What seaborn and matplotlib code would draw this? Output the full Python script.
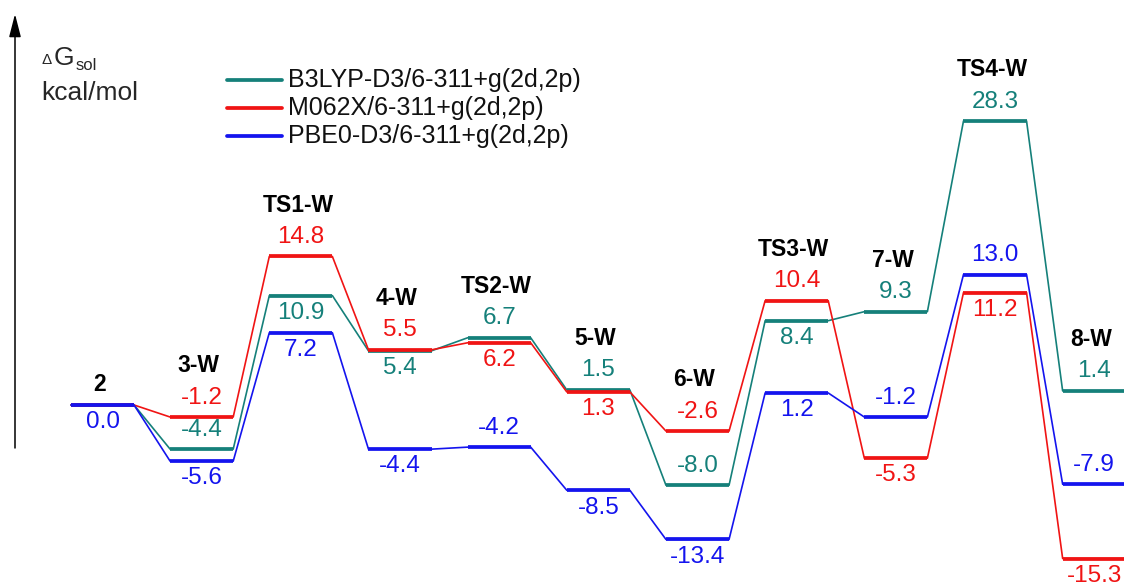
import numpy as np
import pandas as pd
import matplotlib
matplotlib.use("Agg")
import matplotlib.pyplot as plt
from matplotlib.lines import Line2D
import seaborn as sns

# ---------------- data ----------------
states = ["2", "3-W", "TS1-W", "4-W", "TS2-W", "5-W", "6-W", "TS3-W", "7-W", "TS4-W", "8-W"]
methods = ["B3LYP-D3/6-311+g(2d,2p)", "M062X/6-311+g(2d,2p)", "PBE0-D3/6-311+g(2d,2p)"]
b3lyp = [0.0, -4.4, 10.9, 5.4, 6.7, 1.5, -8.0, 8.4, 9.3, 28.3, 1.4]
m062x = [0.0, -1.2, 14.8, 5.5, 6.2, 1.3, -2.6, 10.4, -5.3, 11.2, -15.3]
pbe0 = [0.0, -5.6, 7.2, -4.4, -4.2, -8.5, -13.4, 1.2, -1.2, 13.0, -7.9]
# where each value label sits: 'a' above the level, 'b' below, '' not shown
b3lyp_side = ['', 'a', 'b', 'b', 'a', 'a', 'a', 'b', 'a', 'a', 'a']
m062x_side = ['', 'a', 'a', 'a', 'b', 'b', 'a', 'a', 'b', 'b', 'b']
pbe0_side = ['b', 'b', 'b', 'b', 'a', 'b', 'b', 'b', 'a', 'a', 'a']

colors = ["#15807a", "#f01414", "#1414ee"]
series = [b3lyp, m062x, pbe0]
sides = [b3lyp_side, m062x_side, pbe0_side]

# ---------------- figure ----------------
sns.set_theme(style="white")
plt.rcParams['font.family'] = ['Liberation Sans', 'DejaVu Sans']

W, H = 1124, 583
fig = plt.figure(figsize=(W / 100, H / 100), dpi=100)
ax = fig.add_axes([0, 0, 1, 1])
ax.set_axis_off()

hw = 0.318  # half width of each level bar (in state units)

rows = []
for m, vals in zip(methods, series):
    for i, v in enumerate(vals):
        rows.append({"method": m, "x": i - hw, "E": v})
        rows.append({"method": m, "x": i + hw, "E": v})
df = pd.DataFrame(rows)

# thin connectors (full step profile)
for m, c in zip(methods, colors):
    sns.lineplot(data=df[df.method == m], x="x", y="E", color=c, lw=1.2,
                 estimator=None, sort=False, ax=ax, legend=False)

# thick levels
for vals, c in zip(series, colors):
    xs = np.arange(len(vals))
    ax.hlines(vals, xs - hw, xs + hw, color=c, lw=2.7, zorder=3)

# value labels
for vals, sd, c in zip(series, sides, colors):
    for i, (v, s) in enumerate(zip(vals, sd)):
        if not s:
            continue
        dy = 14.0 if s == 'a' else -12.4
        ax.annotate(f"{v:.1f}", (i, v), xytext=(0, dy), textcoords="offset points",
                    ha="center", va="center", color=c, fontsize=17.5)

# species labels
for i, name in enumerate(states):
    top = max(s[i] for s in series)
    has_above = any(sd[i] == 'a' and s[i] >= top - 1.0 for s, sd in zip(series, sides))
    dy = 37.0 if has_above else 14.4
    ax.annotate(name, (i - 0.03, top), xytext=(0, dy), textcoords="offset points",
                ha="center", va="center", color="black", fontsize=16.5, fontweight="bold")

ax.set_xlim(-1.0336, 10.3006)
ax.set_ylim(-17.74, 40.36)


def px(x, y):
    return (x / W, 1 - y / H)


# energy axis arrow
ax.annotate("", xy=px(15, 14), xytext=px(15, 448), xycoords="figure fraction",
            textcoords="figure fraction",
            arrowprops=dict(arrowstyle="-|>,head_length=0.7,head_width=0.18",
                            color="black", lw=1.1, mutation_scale=20, shrinkA=0, shrinkB=0))

# axis label
fig.text(*px(41, 64), "\u0394", fontsize=11, ha="left", va="baseline")
fig.text(*px(54, 65), "G", fontsize=19, ha="left", va="baseline")
fig.text(*px(76, 70), "sol", fontsize=12, ha="left", va="baseline")
fig.text(*px(41, 100), "kcal/mol", fontsize=19, ha="left", va="baseline")

# legend
for k, (m, c) in enumerate(zip(methods, colors)):
    yl = 80 + 28 * k
    x0, y0 = px(227, yl)
    x1, _ = px(282, yl)
    fig.add_artist(Line2D([x0, x1], [y0, y0], color=c, lw=2.7, transform=fig.transFigure))
    fig.text(*px(288, yl + 7), m, fontsize=18, ha="left", va="baseline", color="#111111")

fig.savefig("out.png", dpi=100)
